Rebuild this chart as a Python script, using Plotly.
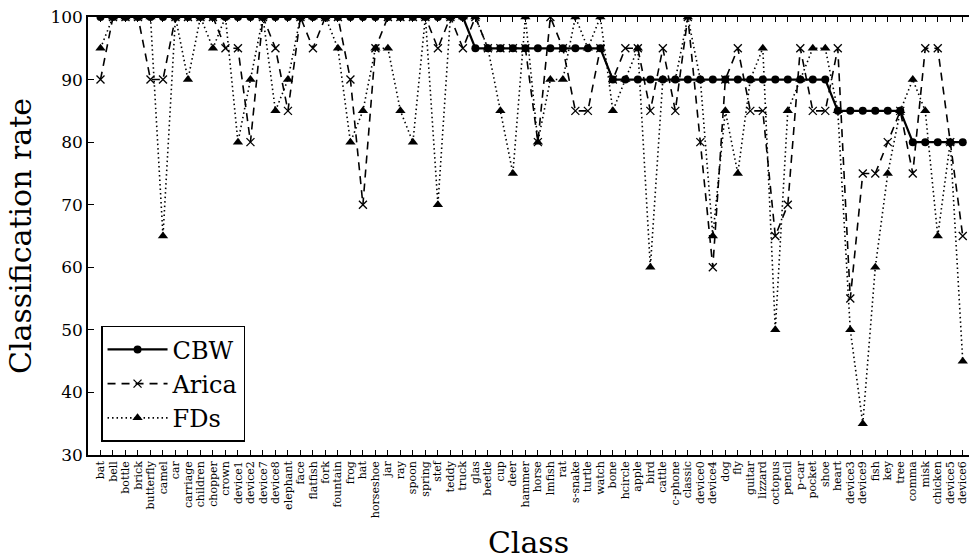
import plotly.graph_objects as go

classes = ["bat", "bell", "bottle", "brick", "butterfly", "camel", "car", "carriage",
           "children", "chopper", "crown", "device1", "device2", "device7", "device8",
           "elephant", "face", "flatfish", "fork", "fountain", "frog", "hat", "horseshoe",
           "jar", "ray", "spoon", "spring", "stef", "teddy", "truck", "glas", "beetle",
           "cup", "deer", "hammer", "horse", "lmfish", "rat", "s-snake", "turtle", "watch",
           "bone", "hcircle", "apple", "bird", "cattle", "c-phone", "classic", "device0",
           "device4", "dog", "fly", "guitar", "lizzard", "octopus", "pencil", "p-car",
           "pocket", "shoe", "heart", "device3", "device9", "fish", "key", "tree", "comma",
           "misk", "chicken", "device5", "device6"]

cbw = [100] * 30 + [95] * 11 + [90] * 18 + [85] * 6 + [80] * 5

arica = [90, 100, 100, 100, 90, 90, 100, 100, 100, 100,
         95, 95, 80, 100, 95, 85, 100, 95, 100, 100,
         90, 70, 95, 100, 100, 100, 100, 95, 100, 95,
         100, 95, 95, 95, 95, 80, 100, 95, 85, 85,
         95, 90, 95, 95, 85, 95, 85, 100, 80, 60,
         90, 95, 85, 85, 65, 70, 95, 85, 85, 95,
         55, 75, 75, 80, 85, 75, 95, 95, 80, 65]

fds = [95, 100, 100, 100, 100, 65, 100, 90, 100, 95,
       100, 80, 90, 100, 85, 90, 100, 100, 100, 95,
       80, 85, 95, 95, 85, 80, 100, 70, 100, 100,
       100, 95, 85, 75, 100, 80, 90, 90, 100, 95,
       100, 85, 90, 95, 60, 90, 90, 100, 90, 65,
       85, 75, 90, 95, 50, 85, 90, 95, 95, 85,
       50, 35, 60, 75, 85, 90, 85, 65, 80, 45]

y_ticks = [30, 40, 50, 60, 70, 80, 90, 100]

xs = list(range(1, len(classes) + 1))
serif = "DejaVu Serif"

fig = go.Figure()
fig.add_trace(go.Scatter(
    x=xs, y=cbw, name="CBW", mode="lines+markers",
    line=dict(color="black", width=2.2, dash="solid"),
    marker=dict(symbol="circle", size=8, color="black"),
))
fig.add_trace(go.Scatter(
    x=xs, y=arica, name="Arica", mode="lines+markers",
    line=dict(color="black", width=1.6, dash="8px,6px"),
    marker=dict(symbol="x-thin", size=8, color="black",
                line=dict(color="black", width=1.3)),
))
fig.add_trace(go.Scatter(
    x=xs, y=fds, name="FDs", mode="lines+markers",
    line=dict(color="black", width=1.6, dash="1.5px,3px"),
    marker=dict(symbol="triangle-up", size=9, color="black"),
))

fig.update_layout(
    width=969, height=560,
    margin=dict(l=88, r=0, t=17, b=105),
    paper_bgcolor="white", plot_bgcolor="white",
    font=dict(family=serif, color="black"),
    showlegend=True,
    legend=dict(
        x=0.0148, y=0.03, xanchor="left", yanchor="bottom",
        bgcolor="white", bordercolor="black", borderwidth=1.5,
        font=dict(family=serif, size=24, color="black"),
        itemwidth=60,
    ),
)

fig.update_xaxes(
    range=[0, 70.5],
    tickmode="array", tickvals=xs, ticktext=classes,
    tickangle=-90, tickfont=dict(family=serif, size=11, color="black"),
    ticklabeloverflow="allow",
    ticks="inside", ticklen=5, tickwidth=1, tickcolor="black",
    showline=True, linecolor="black", linewidth=1.5, mirror="ticks",
    showgrid=False, zeroline=False,
    title=dict(text="Class", font=dict(family=serif, size=30, color="black"), standoff=18),
)
fig.update_yaxes(
    range=[30, 100],
    tickmode="array", tickvals=y_ticks, ticktext=[str(v) for v in y_ticks],
    tickfont=dict(family=serif, size=17, color="black"),
    ticks="inside", ticklen=6, tickwidth=1, tickcolor="black",
    showline=True, linecolor="black", linewidth=1.5, mirror=False,
    showgrid=False, zeroline=False,
    title=dict(text="Classification rate", font=dict(family=serif, size=30, color="black"), standoff=10),
)

fig.write_html("out.html")
